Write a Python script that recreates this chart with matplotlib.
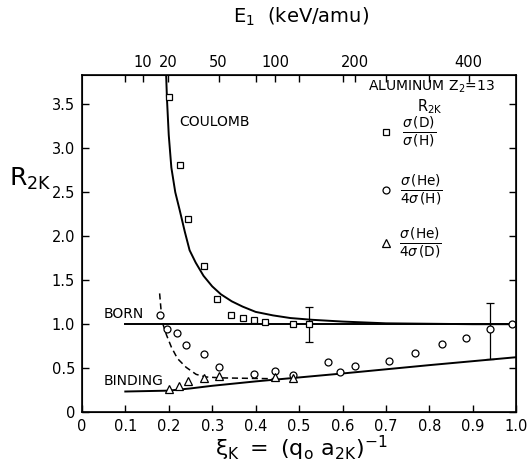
import numpy as np
import matplotlib
matplotlib.use('Agg')
import matplotlib.pyplot as plt

plt.rcParams['font.family'] = ['DejaVu Sans']
plt.rcParams['mathtext.fontset'] = 'dejavusans'

# theory curves
coulomb_xi = [0.194, 0.196, 0.200, 0.206, 0.215, 0.225, 0.237, 0.248, 0.262, 0.280,
              0.300, 0.320, 0.345, 0.370, 0.400, 0.440, 0.480, 0.530, 0.600, 0.700,
              0.800, 0.900, 1.000]
coulomb_r = [3.83, 3.55, 3.15, 2.78, 2.50, 2.30, 2.05, 1.84, 1.70, 1.55,
             1.43, 1.34, 1.26, 1.20, 1.14, 1.10, 1.07, 1.05, 1.03, 1.01,
             1.005, 1.0, 1.0]
born_xi = [0.1, 1.0]
born_r = [1.0, 1.0]
binding_xi = [0.10, 0.20, 0.25, 0.30, 0.40, 0.50, 0.60, 0.80, 1.00]
binding_r = [0.235, 0.245, 0.27, 0.30, 0.35, 0.395, 0.44, 0.535, 0.625]
dashed_xi = [0.179, 0.183, 0.186, 0.195, 0.206, 0.220, 0.240, 0.263, 0.286, 0.320, 0.380, 0.445]
dashed_r = [1.35, 1.12, 1.01, 0.875, 0.74, 0.61, 0.51, 0.43, 0.40, 0.39, 0.385, 0.38]

# data points
sq_xi = [0.200, 0.225, 0.245, 0.280, 0.312, 0.344, 0.372, 0.397, 0.422, 0.485]
sq_r = [3.58, 2.81, 2.19, 1.66, 1.29, 1.11, 1.07, 1.05, 1.02, 1.00]
circ_xi = [0.181, 0.197, 0.220, 0.240, 0.280, 0.315, 0.397, 0.445, 0.485, 0.567,
           0.594, 0.628, 0.706, 0.766, 0.828, 0.885, 0.991]
circ_r = [1.11, 0.95, 0.90, 0.76, 0.66, 0.51, 0.43, 0.47, 0.42, 0.57,
          0.46, 0.52, 0.58, 0.67, 0.78, 0.84, 1.00]
tri_xi = [0.200, 0.223, 0.245, 0.282, 0.315, 0.445, 0.485]
tri_r = [0.26, 0.30, 0.36, 0.39, 0.41, 0.40, 0.385]

# points with error bars
err_sq_xi, err_sq_r, err_sq_lo, err_sq_hi = [0.523], [1.0], [0.80], [1.19]
err_c_xi, err_c_r, err_c_lo, err_c_hi = [0.940], [0.94], [0.61], [1.24]

# top axis energy labels
energy_ticks = [10, 20, 50, 100, 200, 400]
xi_per_sqrt_e = 0.0445
top_minor = [0.1, 0.4, 0.5, 0.6, 0.7, 0.8]

fig = plt.figure(figsize=(5.28, 4.70), dpi=100)
ax = fig.add_axes([0.155, 0.123, 0.823, 0.717])

ax.plot(coulomb_xi, coulomb_r, color='black', lw=1.4)
ax.plot(born_xi, born_r, color='black', lw=1.4)
ax.plot(binding_xi, binding_r, color='black', lw=1.4)
ax.plot(dashed_xi, dashed_r, color='black', lw=1.1, ls=(0, (4, 2.5)))

mk = dict(mfc='white', mec='black', mew=0.9, ls='none', ms=5.0)
ax.plot(sq_xi, sq_r, marker='s', **mk)
ax.plot(circ_xi, circ_r, marker='o', **mk)
ax.plot(tri_xi, tri_r, marker='^', mfc='white', mec='black', mew=0.9, ls='none', ms=6.0)

ax.errorbar(err_sq_xi, err_sq_r,
            yerr=[[err_sq_r[0] - err_sq_lo[0]], [err_sq_hi[0] - err_sq_r[0]]],
            fmt='s', mfc='white', mec='black', ecolor='black', elinewidth=0.9,
            capsize=3, ms=5.0, mew=0.9)
ax.errorbar(err_c_xi, err_c_r,
            yerr=[[err_c_r[0] - err_c_lo[0]], [err_c_hi[0] - err_c_r[0]]],
            fmt='o', mfc='white', mec='black', ecolor='black', elinewidth=0.9,
            capsize=3, ms=5.0, mew=0.9)

ax.set_xlim(0, 1.0)
ax.set_ylim(0, 3.83)
ax.set_xticks(np.arange(0, 1.01, 0.1))
ax.set_xticklabels(['0', '0.1', '0.2', '0.3', '0.4', '0.5', '0.6', '0.7', '0.8', '0.9', '1.0'])
ax.set_yticks(np.arange(0, 3.6, 0.5))
ax.set_yticklabels(['0', '0.5', '1.0', '1.5', '2.0', '2.5', '3.0', '3.5'])
ax.tick_params(direction='in', length=5, width=1, labelsize=10.5, right=True, pad=5)
for s in ax.spines.values():
    s.set_linewidth(1.2)

# top energy axis
top = ax.twiny()
top.set_xlim(ax.get_xlim())
top.set_xticks([xi_per_sqrt_e * np.sqrt(e) for e in energy_ticks])
top.set_xticklabels([str(e) for e in energy_ticks])
top.set_xticks(top_minor, minor=True)
top.tick_params(which='both', direction='in', length=5, width=1, labelsize=10.5, pad=4)

# curve labels
ax.text(0.225, 3.3, 'COULOMB', fontsize=10, ha='left', va='center')
ax.text(0.05, 1.12, 'BORN', fontsize=10, ha='left', va='center')
ax.text(0.05, 0.35, 'BINDING', fontsize=10, ha='left', va='center')

# legend block
ax.text(0.805, 3.70, 'ALUMINUM Z$_2$=13', fontsize=10, ha='center', va='center')
ax.text(0.80, 3.47, 'R$_{\\mathregular{2K}}$', fontsize=10.5, ha='center', va='center')
ax.plot([0.70], [3.18], marker='s', **mk)
ax.plot([0.70], [2.52], marker='o', **mk)
ax.plot([0.70], [1.92], marker='^', mfc='white', mec='black', mew=0.9, ls='none', ms=6.0)
ax.text(0.775, 3.18, r'$\frac{\sigma\,\mathregular{(D)}}{\sigma\,\mathregular{(H)}}$',
        fontsize=14, ha='center', va='center')
ax.text(0.78, 2.52, r'$\frac{\sigma\,\mathregular{(He)}}{4\sigma\,\mathregular{(H)}}$',
        fontsize=14, ha='center', va='center')
ax.text(0.78, 1.92, r'$\frac{\sigma\,\mathregular{(He)}}{4\sigma\,\mathregular{(D)}}$',
        fontsize=14, ha='center', va='center')

# axis titles
fig.text(0.058, 0.62, r'$\mathregular{R_{2K}}$', fontsize=18, ha='center', va='center')
fig.text(0.57, 0.045, r'$\mathregular{\xi_K\ =\ (q_o\ a_{2K})^{-1}}$', fontsize=16,
         ha='center', va='center')
fig.text(0.57, 0.965, r'$\mathregular{E_1}$  (keV/amu)', fontsize=14, ha='center', va='center')

fig.savefig('out.png', dpi=100)
